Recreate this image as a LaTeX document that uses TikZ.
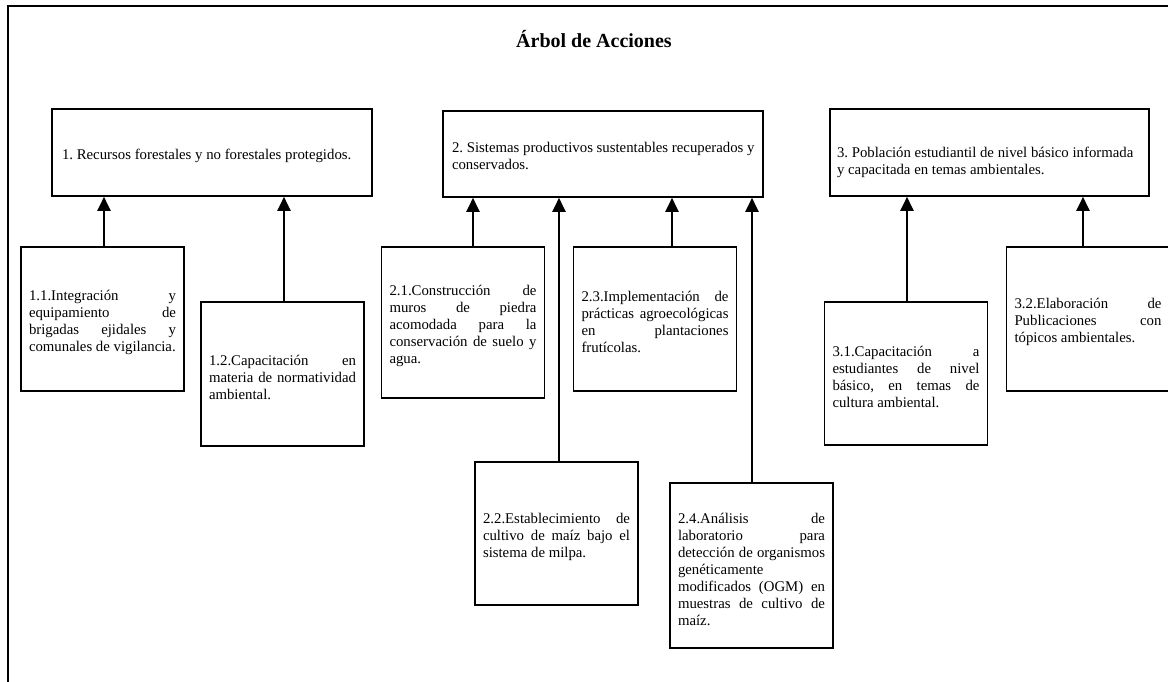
\documentclass[tikz,border=0pt]{standalone}
\usepackage{fontspec}
\setmainfont{Liberation Serif}
\usetikzlibrary{arrows.meta}
\newcommand\jl[1]{\noindent\makebox[\linewidth][s]{#1}\par}
\newcommand\lastln[1]{\noindent\hbox{#1}\par}
\newcommand\txt[3]{\begin{minipage}{#1}\fontsize{14.8}{17}\selectfont\frenchspacing
  \spaceskip=0pt\xspaceskip=0pt\parindent=0pt\vspace*{#2}#3\end{minipage}}
\tikzset{
  sub/.style={draw, line width=1.6pt, inner sep=0pt, inner xsep=8pt},
  top/.style={draw, line width=1.6pt, inner sep=0pt, inner xsep=10pt},
  arr/.style={line width=2.2pt, -{Triangle[width=13pt,length=14pt]}},
  frame/.style={line width=2pt}
}
\begin{document}
\begin{tikzpicture}[x=1pt,y=-1pt]
\useasboundingbox (0,0) rectangle (1168,681);
\clip (0,0) rectangle (1168,681);
\draw[frame] (8,6) rectangle (1200,720);
\node[font=\bfseries\fontsize{20}{24}\selectfont] (title) at (594,39) {Árbol de Acciones};
% top level
\node[top, minimum height=87pt] (b1) at (212,152.5)
  {\txt{300pt}{6pt}{\lastln{1. Recursos forestales y no forestales protegidos.}}};
\node[top, inner xsep=9pt, minimum height=86pt] (b2) at (603,154)
  {\txt{302pt}{4pt}{\lastln{2. Sistemas productivos sustentables recuperados y}\lastln{conservados.}}};
\node[top, inner xsep=7pt, minimum height=87pt] (b3) at (989.5,152.5)
  {\txt{305pt}{20pt}{\lastln{3. Población estudiantil de nivel básico informada}\lastln{y capacitada en temas ambientales.}}};
% level 2
\node[sub, minimum height=144pt] (b11) at (102.5,319)
  {\txt{147pt}{7pt}{\jl{1.1.Integración y}\jl{equipamiento de}\jl{brigadas ejidales y}\lastln{comunales de vigilancia.}}};
\node[sub, minimum height=144pt] (b12) at (282.5,374)
  {\txt{147pt}{7pt}{\jl{1.2.Capacitación en}\jl{materia de normatividad}\lastln{ambiental.}}};
\node[sub, minimum height=151pt] (b21) at (463,322.5)
  {\txt{147pt}{6pt}{\jl{2.1.Construcción de}\jl{muros de piedra}\jl{acomodada para la}\jl{conservación de suelo y}\lastln{agua.}}};
\node[sub, minimum height=144pt] (b23) at (655,319)
  {\txt{147pt}{6pt}{\jl{2.3.Implementación de}\jl{prácticas agroecológicas}\jl{en plantaciones}\lastln{frutícolas.}}};
\node[sub, minimum height=143pt] (b22) at (556.5,533.5)
  {\txt{147pt}{6pt}{\jl{2.2.Establecimiento de}\jl{cultivo de maíz bajo el}\lastln{sistema de milpa.}}};
\node[sub, minimum height=165pt] (b24) at (751.5,565.5)
  {\txt{147pt}{8pt}{\jl{2.4.Análisis de}\jl{laboratorio para}\jl{detección de organismos}\lastln{genéticamente}\jl{modificados (OGM) en}\jl{muestras de cultivo de}\lastln{maíz.}}};
\node[sub, minimum height=143pt] (b31) at (906,373.5)
  {\txt{147pt}{6pt}{\jl{3.1.Capacitación a}\jl{estudiantes de nivel}\jl{básico, en temas de}\lastln{cultura ambiental.}}};
\node[sub, minimum height=144pt] (b32) at (1088,319)
  {\txt{147pt}{6pt}{\jl{3.2.Elaboración de}\jl{Publicaciones con}\lastln{tópicos ambientales.}}};
% connectors
\draw[arr] ([xshift=1.5pt]b11.north) -- ([xshift=1.5pt]b11.north |- b1.south);
\draw[arr] ([xshift=1.5pt]b12.north) -- ([xshift=1.5pt]b12.north |- b1.south);
\draw[arr] ([xshift=10pt]b21.north) -- ([xshift=10pt]b21.north |- b2.south);
\draw[arr] ([xshift=2.5pt]b22.north) -- ([xshift=2.5pt]b22.north |- b2.south);
\draw[arr] ([xshift=17pt]b23.north) -- ([xshift=17pt]b23.north |- b2.south);
\draw[arr] ([xshift=0.5pt]b24.north) -- ([xshift=0.5pt]b24.north |- b2.south);
\draw[arr] ([xshift=1pt]b31.north) -- ([xshift=1pt]b31.north |- b3.south);
\draw[arr] ([xshift=-5pt]b32.north) -- ([xshift=-5pt]b32.north |- b3.south);
\end{tikzpicture}
\end{document}
